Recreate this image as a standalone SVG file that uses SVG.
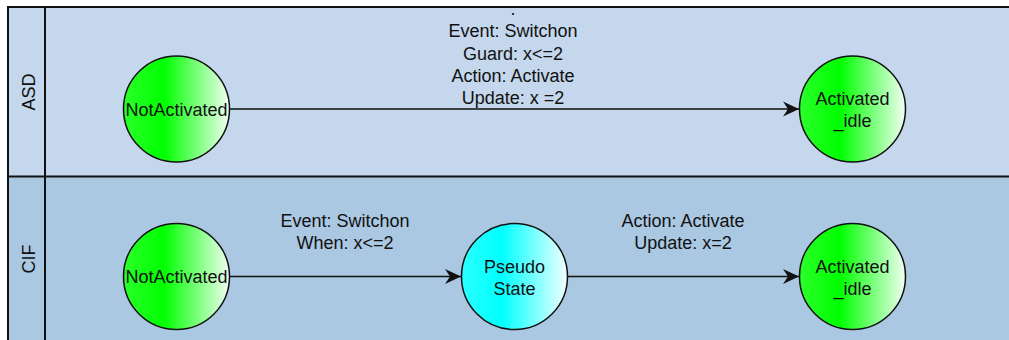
<svg xmlns="http://www.w3.org/2000/svg" width="1009" height="340" viewBox="0 0 1009 340">
  <style>
    .lane-line { stroke: #111111; stroke-width: 2; fill: none; }
    .txt { font-family: "Liberation Sans", Arial, Helvetica, sans-serif; font-size: 18px; fill: #111111; text-anchor: middle; }
    .state { stroke: #111111; stroke-width: 1.5; }
    .edge { stroke: #111111; stroke-width: 1.5; fill: none; marker-end: url(#arrow); }
  </style>
  <defs>
    <linearGradient id="greenFill" x1="0" y1="0" x2="1" y2="0">
      <stop offset="0" stop-color="#2bff2b"/>
      <stop offset="0.38" stop-color="#00ff00"/>
      <stop offset="1" stop-color="#f2fff2"/>
    </linearGradient>
    <linearGradient id="cyanFill" x1="0" y1="0" x2="1" y2="0">
      <stop offset="0" stop-color="#2bffff"/>
      <stop offset="0.38" stop-color="#00ffff"/>
      <stop offset="1" stop-color="#f2ffff"/>
    </linearGradient>
    <marker id="arrow" markerUnits="userSpaceOnUse" markerWidth="18" markerHeight="18" viewBox="0 0 18 18" refX="17" refY="9" orient="auto">
      <path d="M1,1.5 L17,9 L1,16.5 L6,9 Z" fill="#111111"/>
    </marker>
  </defs>

  <!-- swimlanes -->
  <g id="lanes">
    <rect x="8" y="7" width="1010" height="169" fill="#c4d7ec"/>
    <rect x="8" y="176" width="1010" height="170" fill="#aac8e2"/>
    <line class="lane-line" x1="7" y1="7" x2="1009" y2="7"/>
    <line class="lane-line" x1="8" y1="6" x2="8" y2="340"/>
    <line class="lane-line" x1="45" y1="7" x2="45" y2="340"/>
    <line class="lane-line" x1="8" y1="176.5" x2="1009" y2="176.5"/>
    <text class="txt" transform="translate(34.5,92) rotate(-90)">ASD</text>
    <text class="txt" transform="translate(34.5,259) rotate(-90)">CIF</text>
  </g>

  <!-- transitions -->
  <g id="connectors">
    <line class="edge" x1="230" y1="109" x2="799" y2="109"/>
    <line class="edge" x1="230" y1="276.5" x2="461" y2="276.5"/>
    <line class="edge" x1="568" y1="276.5" x2="799" y2="276.5"/>
    <g id="label-asd">
      <text class="txt" x="513" y="15">.</text>
      <text class="txt" x="513" y="37">Event: Switchon</text>
      <text class="txt" x="513" y="59.5">Guard: x&lt;=2</text>
      <text class="txt" x="513" y="82">Action: Activate</text>
      <text class="txt" x="513" y="104">Update: x =2</text>
    </g>
    <g id="label-cif-1">
      <text class="txt" x="345" y="227">Event: Switchon</text>
      <text class="txt" x="345" y="249">When: x&lt;=2</text>
    </g>
    <g id="label-cif-2">
      <text class="txt" x="683" y="227">Action: Activate</text>
      <text class="txt" x="683" y="249">Update: x=2</text>
    </g>
  </g>

  <!-- states -->
  <g id="asd-notactivated">
    <circle class="state" cx="176.5" cy="109" r="53" fill="url(#greenFill)"/>
    <text class="txt" x="176.5" y="115.5">NotActivated</text>
  </g>
  <g id="asd-activated-idle">
    <circle class="state" cx="852.5" cy="109" r="53" fill="url(#greenFill)"/>
    <text class="txt" x="852.5" y="105">Activated</text>
    <text class="txt" x="852.5" y="127">_idle</text>
  </g>
  <g id="cif-notactivated">
    <circle class="state" cx="176.5" cy="276.5" r="53" fill="url(#greenFill)"/>
    <text class="txt" x="176.5" y="283">NotActivated</text>
  </g>
  <g id="cif-pseudo-state">
    <circle class="state" cx="514.5" cy="276.5" r="53" fill="url(#cyanFill)"/>
    <text class="txt" x="514.5" y="272.5">Pseudo</text>
    <text class="txt" x="514.5" y="294.5">State</text>
  </g>
  <g id="cif-activated-idle">
    <circle class="state" cx="852.5" cy="276.5" r="53" fill="url(#greenFill)"/>
    <text class="txt" x="852.5" y="272.5">Activated</text>
    <text class="txt" x="852.5" y="294.5">_idle</text>
  </g>
</svg>
